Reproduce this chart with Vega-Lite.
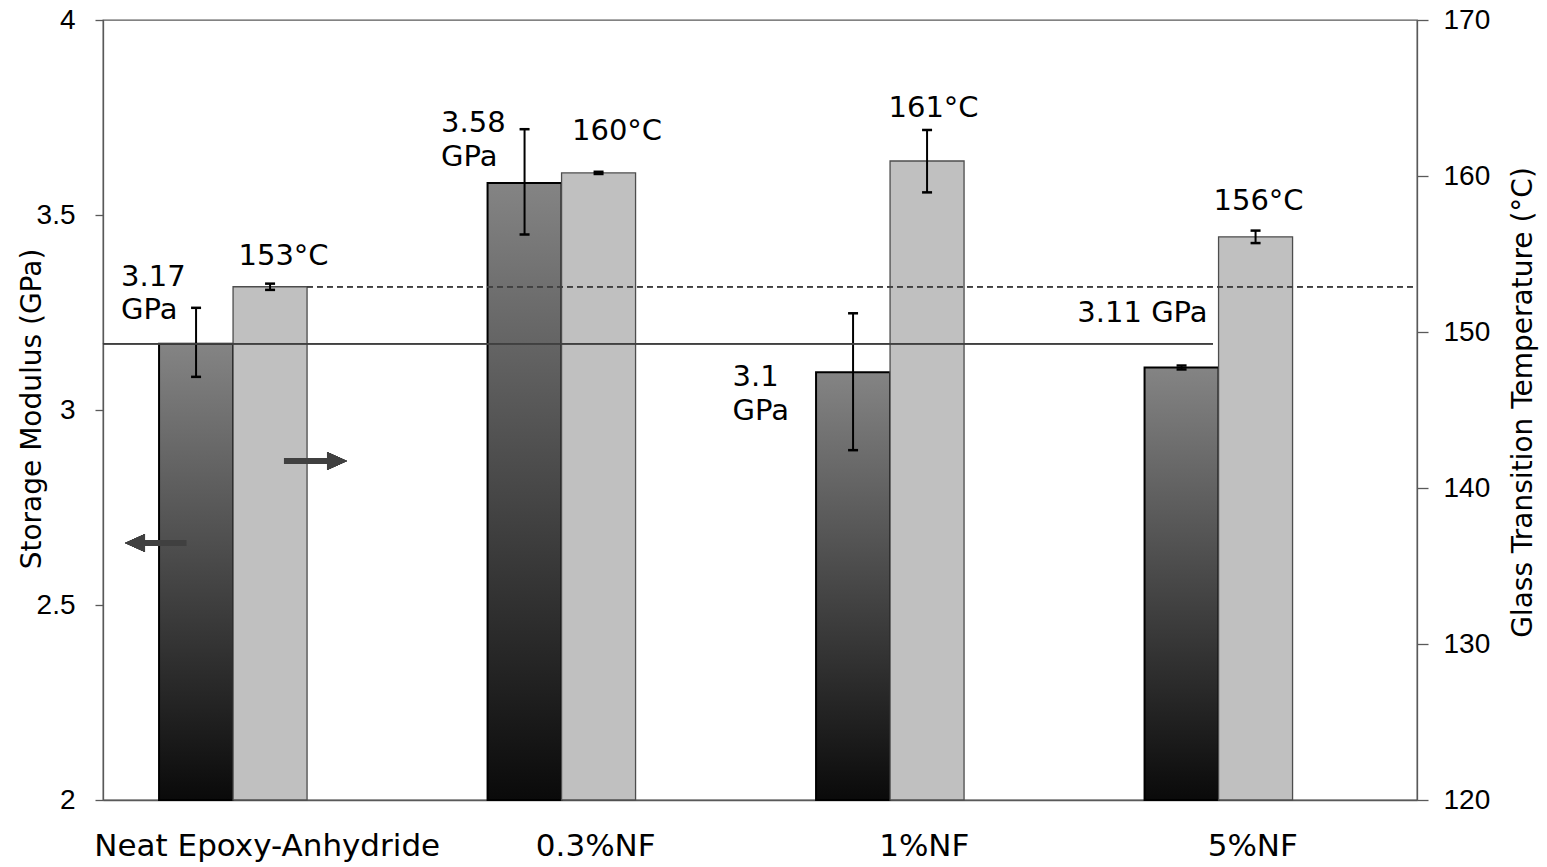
{
  "$schema": "https://vega.github.io/schema/vega-lite/v6.json",
  "width": 1314,
  "height": 780,
  "autosize": {"type": "none"},
  "padding": {"left": 103, "top": 20, "right": 130, "bottom": 67},
  "background": "#ffffff",
  "data": {
    "values": [
      {"cat": "Neat Epoxy-Anhydride", "series": "SM", "value": 3.17, "lo": 3.085, "hi": 3.262, "label": "3.17\nGPa"},
      {"cat": "Neat Epoxy-Anhydride", "series": "Tg", "value": 152.9, "lo": 152.7, "hi": 153.1, "label": "153°C"},
      {"cat": "0.3%NF", "series": "SM", "value": 3.582, "lo": 3.45, "hi": 3.72, "label": "3.58\nGPa"},
      {"cat": "0.3%NF", "series": "Tg", "value": 160.2, "lo": 160.13, "hi": 160.27, "label": "160°C"},
      {"cat": "1%NF", "series": "SM", "value": 3.097, "lo": 2.897, "hi": 3.248, "label": "3.1\nGPa"},
      {"cat": "1%NF", "series": "Tg", "value": 160.96, "lo": 158.95, "hi": 162.95, "label": "161°C"},
      {"cat": "5%NF", "series": "SM", "value": 3.109, "lo": 3.104, "hi": 3.114, "label": "3.11 GPa"},
      {"cat": "5%NF", "series": "Tg", "value": 156.1, "lo": 155.7, "hi": 156.5, "label": "156°C"}
    ]
  },
  "layer": [
    {
      "transform": [{"filter": "datum.series === 'SM'"}],
      "encoding": {
        "x": {"field": "cat", "type": "nominal", "scale": {"domain": ["Neat Epoxy-Anhydride", "0.3%NF", "1%NF", "5%NF"], "paddingInner": 0.0989, "paddingOuter": 0.04945}, "axis": {"title": null}},
        "xOffset": {"field": "series", "type": "nominal", "scale": {"domain": ["SM", "Tg"], "paddingInner": 0, "paddingOuter": 1, "align": 0.269}},
        "y": {"field": "value", "type": "quantitative", "scale": {"domain": [2, 4], "nice": false, "zero": false}, "axis": {"orient": "left", "title": "Storage Modulus (GPa)", "values": [2, 2.5, 3, 3.5, 4], "format": "~g", "tickSize": 8, "labelPadding": 20, "labelFlush": false, "labelOverlap": false, "titleAngle": -90, "titleX": -71, "titleY": 388.5, "titleAlign": "center", "titleBaseline": "middle"}}
      },
      "layer": [
        {
          "mark": {"type": "bar", "fill": {"gradient": "linear", "x1": 0, "y1": 0, "x2": 0, "y2": 1, "stops": [{"offset": 0, "color": "#848484"}, {"offset": 1, "color": "#0a0a0a"}]}, "stroke": "#000000", "strokeWidth": 2},
          "encoding": {"y2": {"datum": 2}}
        },
        {
          "mark": {"type": "rule", "color": "#000000", "strokeWidth": 2},
          "encoding": {"y": {"field": "lo", "type": "quantitative"}, "y2": {"field": "hi"}}
        },
        {
          "mark": {"type": "tick", "orient": "horizontal", "size": 10, "thickness": 2.5, "color": "#000000", "opacity": 1},
          "encoding": {"y": {"field": "lo", "type": "quantitative"}}
        },
        {
          "mark": {"type": "tick", "orient": "horizontal", "size": 10, "thickness": 2.5, "color": "#000000", "opacity": 1},
          "encoding": {"y": {"field": "hi", "type": "quantitative"}}
        }
      ]
    },
    {
      "transform": [{"filter": "datum.series === 'Tg'"}],
      "encoding": {
        "x": {"field": "cat", "type": "nominal", "axis": {"title": null}},
        "xOffset": {"field": "series", "type": "nominal"},
        "y": {"field": "value", "type": "quantitative", "scale": {"domain": [120, 170], "nice": false, "zero": false}, "axis": {"orient": "right", "title": "Glass Transition Temperature (°C)", "values": [120, 130, 140, 150, 160, 170], "tickSize": 11, "labelPadding": 15, "labelFlush": false, "labelOverlap": false, "titleAngle": -90, "titleX": 106, "titleY": 382, "titleAlign": "center", "titleBaseline": "middle"}}
      },
      "layer": [
        {
          "mark": {"type": "bar", "fill": "#c0c0c0", "stroke": "#4d4d4d", "strokeWidth": 1.3},
          "encoding": {"y2": {"datum": 120}}
        },
        {
          "mark": {"type": "rule", "color": "#000000", "strokeWidth": 2},
          "encoding": {"y": {"field": "lo", "type": "quantitative"}, "y2": {"field": "hi"}}
        },
        {
          "mark": {"type": "tick", "orient": "horizontal", "size": 10, "thickness": 2.5, "color": "#000000", "opacity": 1},
          "encoding": {"y": {"field": "lo", "type": "quantitative"}}
        },
        {
          "mark": {"type": "tick", "orient": "horizontal", "size": 10, "thickness": 2.5, "color": "#000000", "opacity": 1},
          "encoding": {"y": {"field": "hi", "type": "quantitative"}}
        }
      ]
    },
    {
      "layer": [
        {
          "mark": {"type": "rule", "color": "#404040", "strokeWidth": 1.3},
          "encoding": {
            "x": {"datum": "Neat Epoxy-Anhydride", "bandPosition": -0.0549, "axis": {"title": null}},
            "x2": {"datum": "5%NF", "bandPosition": 0.3657},
            "y": {"datum": 3.17, "type": "quantitative", "scale": {"domain": [2, 4], "nice": false, "zero": false}, "axis": null}
          }
        },
        {
          "transform": [{"filter": "datum.series === 'SM' && datum.cat === 'Neat Epoxy-Anhydride'"}],
          "mark": {"type": "text", "align": "left", "baseline": "alphabetic", "dx": -75, "dy": -57.5, "lineBreak": "\n", "lineHeight": 33},
          "encoding": {"x": {"field": "cat", "type": "nominal", "axis": {"title": null}}, "xOffset": {"field": "series", "type": "nominal"}, "y": {"field": "value", "type": "quantitative", "axis": null}, "text": {"field": "label"}}
        },
        {
          "transform": [{"filter": "datum.series === 'SM' && datum.cat === '0.3%NF'"}],
          "mark": {"type": "text", "align": "left", "baseline": "alphabetic", "dx": -83.5, "dy": -51, "lineBreak": "\n", "lineHeight": 34},
          "encoding": {"x": {"field": "cat", "type": "nominal", "axis": {"title": null}}, "xOffset": {"field": "series", "type": "nominal"}, "y": {"field": "value", "type": "quantitative", "axis": null}, "text": {"field": "label"}}
        },
        {
          "transform": [{"filter": "datum.series === 'SM' && datum.cat === '1%NF'"}],
          "mark": {"type": "text", "align": "left", "baseline": "alphabetic", "dx": -120.5, "dy": 13.7, "lineBreak": "\n", "lineHeight": 34},
          "encoding": {"x": {"field": "cat", "type": "nominal", "axis": {"title": null}}, "xOffset": {"field": "series", "type": "nominal"}, "y": {"field": "value", "type": "quantitative", "axis": null}, "text": {"field": "label"}}
        },
        {
          "transform": [{"filter": "datum.series === 'SM' && datum.cat === '5%NF'"}],
          "mark": {"type": "text", "align": "right", "baseline": "alphabetic", "dx": 26, "dy": -45.6},
          "encoding": {"x": {"field": "cat", "type": "nominal", "axis": {"title": null}}, "xOffset": {"field": "series", "type": "nominal"}, "y": {"field": "value", "type": "quantitative", "axis": null}, "text": {"field": "label"}}
        },
        {
          "mark": {"type": "point", "shape": "M -1 0 L -0.344 -0.295 L -0.344 -0.098 L 1 -0.098 L 1 0.098 L -0.344 0.098 L -0.344 0.295 Z", "size": 3721, "filled": true, "fill": "#404040", "strokeWidth": 0, "opacity": 1},
          "encoding": {
            "x": {"datum": "Neat Epoxy-Anhydride", "bandPosition": 0.1225, "axis": {"title": null}},
            "y": {"datum": 2.659, "type": "quantitative", "axis": null}
          }
        }
      ]
    },
    {
      "layer": [
        {
          "mark": {"type": "rule", "color": "#404040", "strokeWidth": 1.2, "strokeDash": [6, 4]},
          "encoding": {
            "x": {"datum": "Neat Epoxy-Anhydride", "bandPosition": 0.6343, "axis": {"title": null}},
            "x2": {"datum": "5%NF", "bandPosition": 1.0549},
            "y": {"datum": 152.9, "type": "quantitative", "scale": {"domain": [120, 170], "nice": false, "zero": false}, "axis": null}
          }
        },
        {
          "transform": [{"filter": "datum.series === 'Tg' && datum.cat === 'Neat Epoxy-Anhydride'"}],
          "mark": {"type": "text", "align": "center", "baseline": "alphabetic", "dx": 13.5, "dy": -22},
          "encoding": {"x": {"field": "cat", "type": "nominal", "axis": {"title": null}}, "xOffset": {"field": "series", "type": "nominal"}, "y": {"field": "value", "type": "quantitative", "axis": null}, "text": {"field": "label"}}
        },
        {
          "transform": [{"filter": "datum.series === 'Tg' && datum.cat === '0.3%NF'"}],
          "mark": {"type": "text", "align": "center", "baseline": "alphabetic", "dx": 18.5, "dy": -32.6},
          "encoding": {"x": {"field": "cat", "type": "nominal", "axis": {"title": null}}, "xOffset": {"field": "series", "type": "nominal"}, "y": {"field": "value", "type": "quantitative", "axis": null}, "text": {"field": "label"}}
        },
        {
          "transform": [{"filter": "datum.series === 'Tg' && datum.cat === '1%NF'"}],
          "mark": {"type": "text", "align": "center", "baseline": "alphabetic", "dx": 6.5, "dy": -44},
          "encoding": {"x": {"field": "cat", "type": "nominal", "axis": {"title": null}}, "xOffset": {"field": "series", "type": "nominal"}, "y": {"field": "value", "type": "quantitative", "axis": null}, "text": {"field": "label"}}
        },
        {
          "transform": [{"filter": "datum.series === 'Tg' && datum.cat === '5%NF'"}],
          "mark": {"type": "text", "align": "center", "baseline": "alphabetic", "dx": 3, "dy": -27},
          "encoding": {"x": {"field": "cat", "type": "nominal", "axis": {"title": null}}, "xOffset": {"field": "series", "type": "nominal"}, "y": {"field": "value", "type": "quantitative", "axis": null}, "text": {"field": "label"}}
        },
        {
          "mark": {"type": "point", "shape": "M 1 0 L 0.365 -0.286 L 0.365 -0.095 L -1 -0.095 L -1 0.095 L 0.365 0.095 L 0.365 0.286 Z", "size": 3969, "filled": true, "fill": "#404040", "strokeWidth": 0, "opacity": 1},
          "encoding": {
            "x": {"datum": "Neat Epoxy-Anhydride", "bandPosition": 0.663, "axis": {"title": null}},
            "y": {"datum": 141.73, "type": "quantitative", "axis": null}
          }
        }
      ]
    }
  ],
  "resolve": {"scale": {"y": "independent"}},
  "config": {
    "view": {"stroke": "#595959", "strokeWidth": 1.3},
    "axis": {"grid": false, "labelFont": "Liberation Sans", "labelFontSize": 28, "labelColor": "#000000", "domainColor": "#595959", "domainWidth": 1.3, "tickColor": "#595959", "tickWidth": 1.3, "titleFont": "DejaVu Sans", "titleFontSize": 28, "titleFontWeight": "normal", "titleColor": "#000000", "labelLimit": 1000, "titleLimit": 1000},
    "axisX": {"labelAngle": 0, "ticks": false, "tickSize": 0, "labelPadding": 31, "labelFont": "DejaVu Sans", "labelFontSize": 31, "labelBaseline": "top"},
    "text": {"font": "DejaVu Sans", "fontSize": 29, "color": "#000000"}
  }
}
